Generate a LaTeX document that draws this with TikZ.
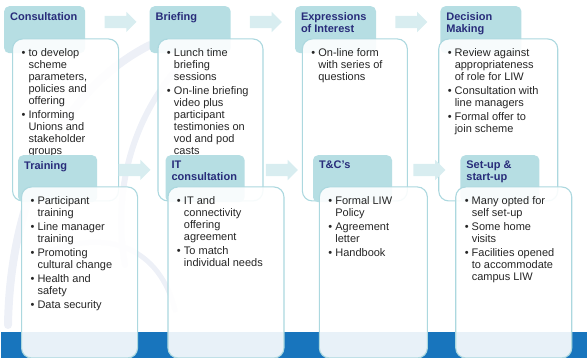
\documentclass[tikz,border=0pt]{standalone}
\usepackage{fontspec}
\setmainfont{Liberation Sans}
\usepackage{tikz}
\usetikzlibrary{positioning, shapes.arrows, calc}

\definecolor{hdrteal}{RGB}{182,222,227}
\definecolor{edgeteal}{RGB}{172,216,223}
\definecolor{arrowteal}{RGB}{216,237,240}
\definecolor{navy}{RGB}{40,44,122}
\definecolor{bandblue}{RGB}{24,117,189}
\definecolor{swirlgray}{RGB}{237,240,247}

% bullet and hanging indent for the stage lists
\newcommand{\itm}{\makebox[7pt][l]{\textbullet}}
\newcommand{\ind}{\hspace*{7pt}}
% fixed size, top aligned text block
\newcommand{\stagebox}[3]{\parbox[t][#2][t]{#1}{\raggedright #3}}

\begin{document}
\begin{tikzpicture}[
    x=1pt, y=-1pt,
    header/.style={rectangle, fill=hdrteal, rounded corners=5pt, inner xsep=6pt, inner ysep=6pt, anchor=north west, font=\fontsize{11}{12}\selectfont\bfseries, text=navy},
    stage/.style={rectangle, draw=edgeteal, line width=1.1pt, fill=white, fill opacity=0.9, text opacity=1, rounded corners=10pt, inner xsep=9pt, inner ysep=10pt, font=\fontsize{11}{12}\selectfont, text=black!85},
    flowarrow/.style={single arrow, fill=arrowteal, minimum height=32pt, single arrow head extend=4pt, inner sep=0pt, node contents={\rule{0pt}{12pt}}},
    swirl/.style={draw=swirlgray, line cap=round}
]
\useasboundingbox (0,0) rectangle (587,358);

% Background: faint swirl and blue band
\draw[swirl, line width=8pt] (150,45) .. controls (60,90) and (10,200) .. (8,325);
\draw[swirl, line width=6pt] (195,50) .. controls (140,100) and (110,180) .. (125,265);
\draw[swirl, line width=5pt] (40,255) .. controls (110,225) and (160,250) .. (175,310);
\fill[bandblue] (1,332) rectangle (587,358);

% Top row - headers
\node[header] (consH) at (4,6) {\stagebox{69pt}{35pt}{Consultation}};
\node[header, right=64pt of consH] (briefH) {\stagebox{69pt}{35pt}{Briefing}};
\node[header, right=64pt of briefH] (exprH) {\stagebox{69pt}{35pt}{Expressions of Interest}};
\node[header, right=64pt of exprH] (decH) {\stagebox{69pt}{35pt}{Decision Making}};

% Top row - arrows
\node (arr1) at ($(consH.north east)!0.5!(briefH.north west)+(0,16)$) [flowarrow];
\node (arr2) at ($(briefH.north east)!0.5!(exprH.north west)+(0,16)$) [flowarrow];
\node (arr3) at ($(exprH.north east)!0.5!(decH.north west)+(0,16)$) [flowarrow];

% Top row - bodies
\node[stage, below=-15pt of consH.south west, anchor=north west, xshift=8pt] (consB) {\stagebox{88pt}{142pt}{%
  \itm to develop\\ \ind scheme\\ \ind parameters,\\ \ind policies and\\ \ind offering\\[2pt]
  \itm Informing\\ \ind Unions and\\ \ind stakeholder\\ \ind groups}};
\node[stage, below=-15pt of briefH.south west, anchor=north west, xshift=8pt] (briefB) {\stagebox{87pt}{142pt}{%
  \itm Lunch time\\ \ind briefing\\ \ind sessions\\[2pt]
  \itm On-line briefing\\ \ind video plus\\ \ind participant\\ \ind testimonies on\\ \ind vod and pod\\ \ind casts}};
\node[stage, below=-15pt of exprH.south west, anchor=north west, xshift=7pt] (exprB) {\stagebox{87pt}{142pt}{%
  \itm On-line form\\ \ind with series of\\ \ind questions}};
\node[stage, below=-15pt of decH.south west, anchor=north west, xshift=-2pt] (decB) {\stagebox{101pt}{142pt}{%
  \itm Review against\\ \ind appropriateness\\ \ind of role for LIW\\[2pt]
  \itm Consultation with\\ \ind line managers\\[2pt]
  \itm Formal offer to\\ \ind join scheme}};

% Bottom row - headers (width 79)
\node[header] (trainH) at (18,155) {\stagebox{67pt}{35pt}{Training}};
\node[header, right=68pt of trainH] (itH) {\stagebox{67pt}{35pt}{IT consultation}};
\node[header, right=68pt of itH] (tcH) {\stagebox{67pt}{35pt}{T\&C's}};
\node[header, right=68pt of tcH] (setupH) {\stagebox{67pt}{35pt}{Set-up \& start-up}};

% Bottom row - arrows
\node (arr4) at ($(trainH.north east)!0.5!(itH.north west)+(0,15)$) [flowarrow];
\node (arr5) at ($(itH.north east)!0.5!(tcH.north west)+(0,15)$) [flowarrow];
\node (arr6) at ($(tcH.north east)!0.5!(setupH.north west)+(0,15)$) [flowarrow];

% Bottom row - bodies
\node[stage, below=-16pt of trainH.south west, anchor=north west, xshift=3pt] (trainB) {\stagebox{98pt}{151pt}{%
  \itm Participant\\ \ind training\\[2pt]
  \itm Line manager\\ \ind training\\[2pt]
  \itm Promoting\\ \ind cultural change\\[2pt]
  \itm Health and\\ \ind safety\\[2pt]
  \itm Data security}};
\node[stage, below=-16pt of itH.south west, anchor=north west, xshift=2pt] (itB) {\stagebox{98pt}{151pt}{%
  \itm IT and\\ \ind connectivity\\ \ind offering\\ \ind agreement\\[2pt]
  \itm To match\\ \ind individual needs}};
\node[stage, below=-16pt of tcH.south west, anchor=north west, xshift=6pt] (tcB) {\stagebox{90pt}{151pt}{%
  \itm Formal LIW\\ \ind Policy\\[2pt]
  \itm Agreement\\ \ind letter\\[2pt]
  \itm Handbook}};
\node[stage, below=-16pt of setupH.south west, anchor=north west, xshift=-5pt] (setupB) {\stagebox{98pt}{151pt}{%
  \itm Many opted for\\ \ind self set-up\\[2pt]
  \itm Some home\\ \ind visits\\[2pt]
  \itm Facilities opened\\ \ind to accommodate\\ \ind campus LIW}};

\end{tikzpicture}
\end{document}
